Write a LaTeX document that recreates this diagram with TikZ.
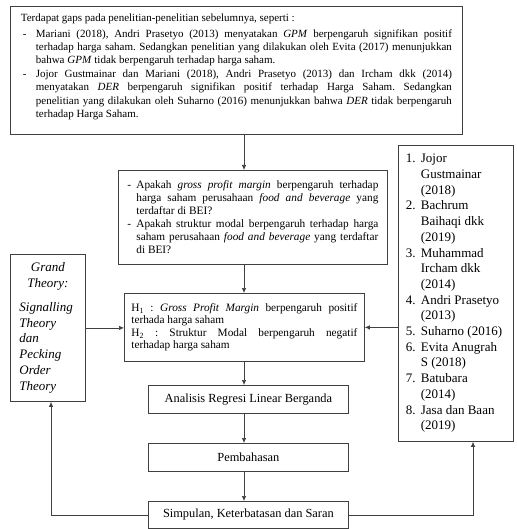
\documentclass[tikz,border=0pt]{standalone}
\usepackage{fontspec}
\setmainfont{Liberation Serif}
\usetikzlibrary{arrows.meta}
\frenchspacing
\newcommand\LJ[2][0pt]{\hbox to \linewidth{\hspace*{#1}#2}}
\newcommand\LL[2][0pt]{\hbox to \linewidth{\hspace*{#1}#2\hfil}}
\newcommand\LC[1]{\hbox to \linewidth{\hfil#1\hfil}}
\begin{document}
\begin{tikzpicture}[x=1pt,y=-1pt,
  box/.style={draw=black!75, line width=0.8pt, inner sep=0pt, anchor=north west},
  arr/.style={-{Latex[length=5pt,width=4.5pt]}, draw=black!75, line width=0.7pt}]
\useasboundingbox (0,0) rectangle (516,529);

\node[box, minimum width=452pt, minimum height=128pt] (top) at (10,6)
 {\parbox[c][128pt][t]{431pt}{\fontsize{11}{13.4}\selectfont
  \vspace*{7pt}
  \LL{Terdapat gaps pada penelitian-penelitian sebelumnya, seperti :}
  \vspace{2.6pt}
  \LJ[2pt]{\makebox[13pt][l]{-}Mariani (2018), Andri Prasetyo (2013) menyatakan \textit{GPM} berpengaruh signifikan positif}
  \LJ[15pt]{terhadap harga saham. Sedangkan penelitian yang dilakukan oleh Evita (2017) menunjukkan}
  \LL[15pt]{bahwa \textit{GPM} tidak berpengaruh terhadap harga saham.}
  \LJ[2pt]{\makebox[13pt][l]{-}Jojor Gustmainar dan Mariani (2018), Andri Prasetyo (2013) dan Ircham dkk (2014)}
  \LJ[15pt]{menyatakan \textit{DER} berpengaruh signifikan positif terhadap Harga Saham. Sedangkan}
  \LJ[15pt]{penelitian yang dilakukan oleh Suharno (2016) menunjukkan bahwa \textit{DER} tidak berpengaruh}
  \LL[15pt]{terhadap Harga Saham.}}};

\node[box, minimum width=269pt, minimum height=94pt] (q) at (118,170)
 {\parbox{251pt}{\fontsize{11.3}{13}\selectfont
  \LJ{\makebox[9pt][l]{-}Apakah \textit{gross profit margin} berpengaruh terhadap}
  \LJ[9pt]{harga saham perusahaan \textit{food and beverage} yang}
  \LL[9pt]{terdaftar di BEI?}
  \LJ{\makebox[9pt][l]{-}Apakah struktur modal berpengaruh terhadap harga}
  \LJ[9pt]{saham perusahaan \textit{food and beverage} yang terdaftar}
  \LL[9pt]{di BEI?}}};

\node[box, minimum width=240pt, minimum height=68pt] (h) at (124,293)
 {\parbox{226pt}{\fontsize{11.3}{12.5}\selectfont
  \LJ{H\textsubscript{1} : \textit{Gross Profit Margin} berpengaruh positif}
  \LL{terhada harga saham}
  \LJ{H\textsubscript{2} : Struktur Modal berpengaruh negatif}
  \LL{terhadap harga saham}}};

\node[box, minimum width=200pt, minimum height=28pt, font=\fontsize{12.4}{14}\selectfont] (ana) at (148,385) {Analisis Regresi Linear Berganda};
\node[box, minimum width=200pt, minimum height=28pt, font=\fontsize{12.4}{14}\selectfont] (pem) at (148,443) {Pembahasan};
\node[box, minimum width=200pt, minimum height=27pt, font=\fontsize{12.4}{14}\selectfont] (sim) at (148,501) {Simpulan, Keterbatasan dan Saran};

\node[box, minimum width=115pt, minimum height=296pt] (ref) at (398,145)
 {\parbox{100pt}{\fontsize{13}{15.7}\selectfont
  \LL{\makebox[15pt][l]{1.}Jojor}
  \LL[15pt]{Gustmainar}
  \LL[15pt]{(2018)}
  \LL{\makebox[15pt][l]{2.}Bachrum}
  \LL[15pt]{Baihaqi dkk}
  \LL[15pt]{(2019)}
  \LL{\makebox[15pt][l]{3.}Muhammad}
  \LL[15pt]{Ircham dkk}
  \LL[15pt]{(2014)}
  \LL{\makebox[15pt][l]{4.}Andri Prasetyo}
  \LL[15pt]{(2013)}
  \LL{\makebox[15pt][l]{5.}Suharno (2016)}
  \LL{\makebox[15pt][l]{6.}Evita Anugrah}
  \LL[15pt]{S (2018)}
  \LL{\makebox[15pt][l]{7.}Batubara}
  \LL[15pt]{(2014)}
  \LL{\makebox[15pt][l]{8.}Jasa dan Baan}
  \LL[15pt]{(2019)}}};

\node[box, minimum width=75pt, minimum height=147pt] (gt) at (10,254)
 {\parbox{57pt}{\fontsize{13}{15.8}\selectfont\itshape
  \LC{Grand}
  \LC{Theory:}
  \vspace{8pt}
  \LL{Signalling}
  \LL{Theory}
  \LL{dan}
  \LL{Pecking}
  \LL{Order}
  \LL{Theory}}};

\coordinate (ax) at (244,0);
\coordinate (lx) at (51,0);
\coordinate (rx) at (473,0);
\draw[arr] (top.south -| ax) -- (q.north -| ax);
\draw[arr] (q.south -| ax) -- (h.north -| ax);
\draw[arr] (h.south -| ax) -- (ana.north -| ax);
\draw[arr] (ana.south -| ax) -- (pem.north -| ax);
\draw[arr] (pem.south -| ax) -- (sim.north -| ax);
\draw[arr] (gt.east) -- (h.west |- gt.east);
\draw[arr] (ref.west |- h.east) -- (h.east);
\draw[arr] (sim.west) -- (sim.west -| lx) -- (gt.south -| lx);
\draw[arr] (sim.east) -- (sim.east -| rx) -- (ref.south -| rx);
\end{tikzpicture}
\end{document}
